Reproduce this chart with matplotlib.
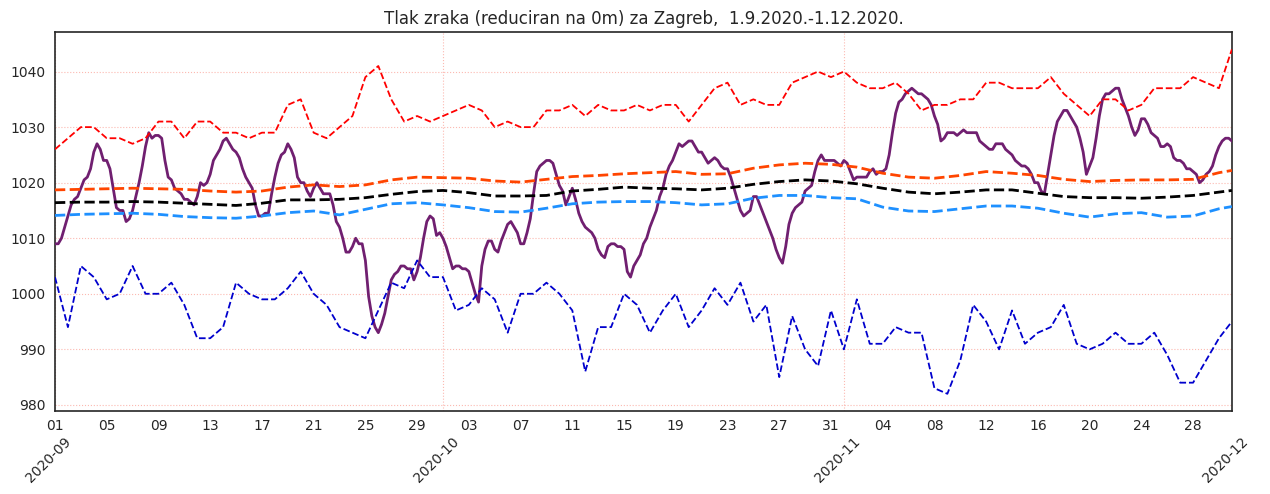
import matplotlib
matplotlib.use('Agg')

import matplotlib.pyplot as plt
import matplotlib.dates as mdates
import matplotlib.ticker as mticker
import matplotlib.transforms as mtransforms
import numpy as np
import pandas as pd

# daily dates 1.9.2020 - 1.12.2020
days = pd.date_range('2020-09-01', '2020-12-01', freq='D')
# pressure every 6 hours, same period
hours = pd.date_range('2020-09-01', '2020-12-01', freq='6h')

# daily max (red dashed)
p_max = [1026, 1028, 1030, 1030, 1028, 1028, 1027, 1028, 1031, 1031,
         1028, 1031, 1031, 1029, 1029, 1028, 1029, 1029, 1034, 1035,
         1029, 1028, 1030, 1032, 1039, 1041, 1035, 1031, 1032, 1031,
         1032, 1033, 1034, 1033, 1030, 1031, 1030, 1030, 1033, 1033,
         1034, 1032, 1034, 1033, 1033, 1034, 1033, 1034, 1034, 1031,
         1034, 1037, 1038, 1034, 1035, 1034, 1034, 1038, 1039, 1040,
         1039, 1040, 1038, 1037, 1037, 1038, 1036, 1033, 1034, 1034,
         1035, 1035, 1038, 1038, 1037, 1037, 1037, 1039, 1036, 1034,
         1032, 1035, 1035, 1033, 1034, 1037, 1037, 1037, 1039, 1038,
         1037, 1044]

# daily min (blue dashed)
p_min = [1003, 994, 1005, 1003, 999, 1000, 1005, 1000, 1000, 1002,
         998, 992, 992, 994, 1002, 1000, 999, 999, 1001, 1004,
         1000, 998, 994, 993, 992, 997, 1002, 1001, 1006, 1003,
         1003, 997, 998, 1001, 999, 993, 1000, 1000, 1002, 1000,
         997, 986, 994, 994, 1000, 998, 993, 997, 1000, 994,
         997, 1001, 998, 1002, 995, 998, 985, 996, 990, 987,
         997, 990, 999, 991, 991, 994, 993, 993, 983, 982,
         988, 998, 995, 990, 997, 991, 993, 994, 998, 991,
         990, 991, 993, 991, 991, 993, 989, 984, 984, 988,
         992, 995]

# smooth averages, every 2nd day + last day
avg_days = list(range(0, 92, 2)) + [91]
p_upper = [1018.7, 1018.8, 1018.9, 1019.0, 1018.9, 1018.8, 1018.5, 1018.3, 1018.5, 1019.2,
           1019.6, 1019.3, 1019.6, 1020.5, 1021.0, 1020.9, 1020.8, 1020.3, 1020.1, 1020.6,
           1021.1, 1021.3, 1021.6, 1021.8, 1022.0, 1021.5, 1021.6, 1022.6, 1023.2, 1023.5,
           1023.3, 1022.8, 1021.7, 1021.0, 1020.8, 1021.3, 1022.0, 1021.7, 1021.3, 1020.6,
           1020.2, 1020.4, 1020.5, 1020.5, 1020.6, 1021.8, 1022.2]
p_mean = [1016.4, 1016.5, 1016.5, 1016.6, 1016.5, 1016.3, 1016.1, 1015.9, 1016.3, 1016.9,
          1016.9, 1017.0, 1017.3, 1017.9, 1018.4, 1018.6, 1018.2, 1017.6, 1017.6, 1017.7,
          1018.5, 1018.8, 1019.2, 1019.0, 1018.9, 1018.7, 1019.0, 1019.7, 1020.2, 1020.5,
          1020.3, 1019.8, 1019.0, 1018.3, 1018.0, 1018.3, 1018.7, 1018.7, 1018.1, 1017.5,
          1017.3, 1017.3, 1017.2, 1017.4, 1017.7, 1018.3, 1018.6]
p_lower = [1014.1, 1014.3, 1014.4, 1014.5, 1014.3, 1013.9, 1013.7, 1013.6, 1014.0, 1014.6,
           1014.9, 1014.2, 1015.2, 1016.2, 1016.4, 1016.0, 1015.5, 1014.8, 1014.7, 1015.4,
           1016.2, 1016.5, 1016.6, 1016.6, 1016.4, 1016.0, 1016.2, 1017.2, 1017.7, 1017.7,
           1017.3, 1017.1, 1015.6, 1014.9, 1014.8, 1015.3, 1015.8, 1015.8, 1015.4, 1014.5,
           1013.8, 1014.4, 1014.6, 1013.8, 1014.0, 1015.3, 1015.7]

# measured pressure, 4 values per day
pressure = [
    1009, 1009, 1010, 1012,  1014, 1016, 1017, 1017.5,  1019, 1020.5, 1021, 1022.5,
    1025.5, 1027, 1026, 1024,  1024, 1022.5, 1019, 1015.5,  1015, 1015, 1013, 1013.5,
    1015, 1017.5, 1020, 1023,  1026.5, 1029, 1028, 1028.5,  1028.5, 1028, 1024, 1021,
    1020.5, 1019, 1018.5, 1018,  1017, 1017, 1016.5, 1016,  1017.5, 1020, 1019.5, 1020,
    1021.5, 1024, 1025, 1026,  1027.5, 1028, 1027, 1026,  1025.5, 1024.5, 1022.5, 1021,
    1020, 1019, 1016, 1014,  1014, 1014.5, 1014.5, 1018,  1021, 1023.5, 1025, 1025.5,
    1027, 1026, 1024.5, 1021,  1020, 1020, 1018.5, 1017.5,  1019, 1020, 1019, 1018,
    1018, 1018, 1016, 1013,  1012, 1010, 1007.5, 1007.5,  1008.5, 1010, 1009, 1009,
    1006, 999.5, 996, 994,  993, 994.5, 996.5, 999.5,  1002.5, 1003.5, 1004, 1005,
    1005, 1004.5, 1004.5, 1002.5,  1004, 1006.5, 1010, 1013,  1014, 1013.5, 1010.5, 1011,
    1010, 1008.5, 1006.5, 1004.5,  1005, 1005, 1004.5, 1004.5,  1004, 1002, 1000, 998.5,
    1005, 1008, 1009.5, 1009.5,  1008, 1007.5, 1009.5, 1011,  1012.5, 1013, 1012, 1011,
    1009, 1009, 1011, 1013.5,  1018, 1022, 1023, 1023.5,  1024, 1024, 1023.5, 1021.5,
    1019.5, 1018.5, 1016, 1017.5,  1019, 1017, 1014.5, 1013,  1012, 1011.5, 1011, 1010,
    1008, 1007, 1006.5, 1008.5,  1009, 1009, 1008.5, 1008.5,  1008, 1004, 1003, 1005,
    1006, 1007, 1009, 1010,  1012, 1013.5, 1015, 1017.5,  1019, 1021.5, 1023, 1024,
    1025.5, 1027, 1026.5, 1027,  1027.5, 1027.5, 1026.5, 1025.5,  1025.5, 1024.5, 1023.5, 1024,
    1024.5, 1024, 1023, 1022.5,  1022.5, 1021, 1019, 1017,  1015, 1014, 1014.5, 1015,
    1017.5, 1017.5, 1016, 1014.5,  1013, 1011.5, 1010, 1008,  1006.5, 1005.5, 1008.5, 1012.5,
    1014.5, 1015.5, 1016, 1016.5,  1018.5, 1019, 1019.5, 1022,  1024, 1025, 1024, 1024,
    1024, 1024, 1023.5, 1023,  1024, 1023.5, 1022, 1020.5,  1021, 1021, 1021, 1021,
    1022, 1022.5, 1021.5, 1022,  1022, 1022.5, 1025, 1029,  1032.5, 1034.5, 1035, 1036,
    1036.5, 1037, 1036.5, 1036,  1036, 1035.5, 1035, 1034,  1032, 1030.5, 1027.5, 1028,
    1029, 1029, 1029, 1028.5,  1029, 1029.5, 1029, 1029,  1029, 1029, 1027.5, 1027,
    1026.5, 1026, 1026, 1027,  1027, 1027, 1026, 1025.5,  1025, 1024, 1023.5, 1023,
    1023, 1022.5, 1021.5, 1020,  1020, 1018.5, 1018, 1021.5,  1025, 1028.5, 1031, 1032,
    1033, 1033, 1032, 1031,  1030, 1028, 1025.5, 1021.5,  1023, 1024.5, 1028, 1032,
    1035, 1036, 1036, 1036.5,  1037, 1037, 1035, 1033.5,  1032, 1030, 1028.5, 1029.5,
    1031.5, 1031.5, 1030.5, 1029,  1028.5, 1028, 1026.5, 1026.5,  1027, 1026.5, 1024.5, 1024,
    1024, 1023.5, 1022.5, 1022.5,  1022, 1021.5, 1020, 1020.5,  1021.5, 1022, 1023, 1025,
    1026.5, 1027.5, 1028, 1028,  1027.5]

txt = '#262626'

fig, ax = plt.subplots(figsize=(12.7, 4.94), dpi=100)
fig.subplots_adjust(left=0.0433, right=0.970, top=0.935, bottom=0.168)

ax.plot(hours, pressure, color='#701f70', lw=2, zorder=3)
ax.plot(days, p_max, color='red', ls='--', lw=1.3, zorder=4)
ax.plot(days, p_min, color='mediumblue', ls='--', lw=1.3, zorder=4)
avg_dates = days[avg_days]
ax.plot(avg_dates, p_upper, color='orangered', ls='--', lw=2, zorder=4)
ax.plot(avg_dates, p_mean, color='black', ls='--', lw=2, zorder=4)
ax.plot(avg_dates, p_lower, color='dodgerblue', ls='--', lw=2, zorder=4)

ax.set_xlim(days[0], days[-1])
ax.set_title('Tlak zraka (reduciran na 0m) za Zagreb,  1.9.2020.-1.12.2020.',
             fontsize=12, color=txt)

# x axis: months as major, every 4th day as minor
ax.xaxis.set_major_locator(mdates.MonthLocator())
ax.xaxis.set_major_formatter(mdates.DateFormatter('%Y-%m'))
minor_days = pd.date_range('2020-09-01', '2020-12-01', freq='4D')
ax.xaxis.set_minor_locator(mticker.FixedLocator(mdates.date2num(minor_days)))
ax.xaxis.set_minor_formatter(mdates.DateFormatter('%d'))
ax.xaxis.remove_overlapping_locs = False
ax.yaxis.set_major_locator(mticker.MultipleLocator(10))

ax.tick_params(axis='x', which='major', length=0, pad=17, labelsize=10,
               labelcolor=txt, labelrotation=45)
ax.tick_params(axis='x', which='minor', length=0, pad=6, labelsize=10,
               labelcolor=txt)
ax.tick_params(axis='y', length=0, pad=7, labelsize=10, labelcolor=txt)

shift = mtransforms.ScaledTranslation(-6 / 100, 0, fig.dpi_scale_trans)
for lab in ax.xaxis.get_majorticklabels():
    lab.set_transform(lab.get_transform() + shift)

ax.grid(True, which='major', axis='both', color='salmon', alpha=0.55,
        ls=':', lw=0.8)

for s in ax.spines.values():
    s.set_color(txt)
    s.set_linewidth(1.2)

fig.savefig('out.png', dpi=100)
